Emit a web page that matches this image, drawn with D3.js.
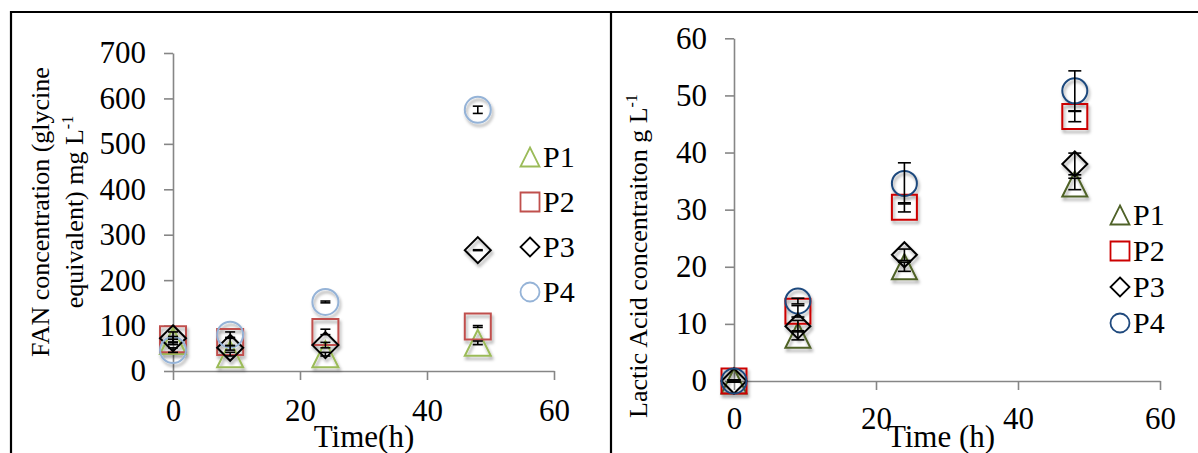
<!DOCTYPE html>
<html>
<head>
<meta charset="utf-8">
<script src="https://cdn.jsdelivr.net/npm/d3@7"></script>
<style>
  html, body { margin: 0; padding: 0; background: #fff; }
  svg { display: block; font-family: "Liberation Serif", "Times New Roman", serif; }
</style>
</head>
<body>
<svg id="chart" width="1198" height="453"></svg>
<script>
// time points (h)
const times = [0, 9, 24, 48];
const seriesNames = ['P1', 'P2', 'P3', 'P4'];
const xTicks = [0, 20, 40, 60];

// FAN concentration (mg/L)
const fanP1 = [66, 37, 37, 62];
const fanP2 = [70, 64, 86, 98];
const fanP3 = [72, 51, 57, 266];
const fanP4 = [46, 80, 152, 575];
const fanErr1 = [4, 4, 4, 4];
const fanErr2 = [6, 8, 6, 2];
const fanErr3 = [14, 5, 6, 1];
const fanErr4 = [5, 6, 2, 8];
const fanTicks = [0, 100, 200, 300, 400, 500, 600, 700];

// Lactic acid (g/L)
const laP1 = [0, 8.0, 20.0, 34.5];
const laP2 = [0, 12.2, 30.4, 46.3];
const laP3 = [0, 9.6, 22.1, 38.0];
const laP4 = [0, 14.0, 34.6, 50.8];
const laErr1 = [0.2, 0.8, 0.8, 1.0];
const laErr2 = [0.2, 1.0, 0.8, 0.9];
const laErr3 = [0.2, 1.0, 1.0, 1.9];
const laErr4 = [0.2, 0.5, 3.6, 3.5];
const laTicks = [0, 10, 20, 30, 40, 50, 60];

const shapes = ['triangle', 'square', 'diamond', 'circle'];

const svg = d3.select('#chart');

// drop shadow like the Excel markers
svg.append('defs').append('filter')
    .attr('id', 'shadow')
    .attr('x', '-50%').attr('y', '-50%').attr('width', '200%').attr('height', '200%')
  .append('feDropShadow')
    .attr('dx', 1.5).attr('dy', 3).attr('stdDeviation', 1.6)
    .attr('flood-color', '#000').attr('flood-opacity', 0.35);

// frame
svg.append('path')
    .attr('d', 'M11,453 V12 H1198 M611,12 V453')
    .attr('fill', 'none').attr('stroke', '#000').attr('stroke-width', 2.2);

function markerPath(shape, s) {
    const h = s / 2;
    if (shape === 'triangle') return `M0,${-h} L${h},${h} L${-h},${h} Z`;
    if (shape === 'square') return `M${-h},${-h} H${h} V${h} H${-h} Z`;
    return `M0,${-h} L${h},0 L0,${h} L${-h},0 Z`;
}

function drawMarker(g, shape, x, y, size, color, sw) {
    if (shape === 'circle') {
        g.append('circle').attr('cx', x).attr('cy', y).attr('r', size / 2)
            .attr('fill', 'none').attr('stroke', color).attr('stroke-width', sw);
    } else {
        g.append('path').attr('d', markerPath(shape, size))
            .attr('transform', `translate(${x},${y})`)
            .attr('fill', 'none').attr('stroke', color).attr('stroke-width', sw);
    }
}

function drawPanel(cfg) {
    const x = d3.scaleLinear().domain([0, 60]).range(cfg.xRange);
    const y = d3.scaleLinear().domain(cfg.yDomain).range(cfg.yRange);
    const g = svg.append('g');

    const yAxis = g.append('g')
        .attr('transform', `translate(${cfg.xRange[0]},0)`)
        .call(d3.axisLeft(y).tickValues(cfg.yTicks).tickSize(9).tickSizeOuter(0).tickPadding(18));
    const xAxis = g.append('g')
        .attr('transform', `translate(0,${cfg.yRange[0]})`)
        .call(d3.axisBottom(x).tickValues(xTicks).tickSize(9).tickSizeOuter(0).tickPadding(cfg.xPad));
    [yAxis, xAxis].forEach(a => {
        a.attr('font-family', null).attr('font-size', null);
        a.selectAll('path, line').attr('stroke', '#868686').attr('stroke-width', 1.6);
        a.selectAll('text').attr('fill', '#000').style('font-size', '31px');
    });

    // x title
    g.append('text')
        .attr('x', cfg.xTitlePos[0]).attr('y', cfg.xTitlePos[1])
        .attr('text-anchor', 'middle').style('font-size', '31px')
        .text(cfg.xTitle);

    // y title (rotated lines)
    cfg.yTitle.forEach((line, i) => {
        const t = g.append('text')
            .attr('transform', `translate(${cfg.yTitleX[i]},${cfg.yTitleY}) rotate(-90)`)
            .attr('text-anchor', 'middle').style('font-size', '26px');
        t.append('tspan').text(line.text);
        if (line.sup) {
            t.append('tspan').attr('dy', -10).style('font-size', '16px').text(line.sup);
        }
    });

    // markers
    const mg = g.append('g').attr('filter', 'url(#shadow)');
    cfg.values.forEach((vals, si) => {
        vals.forEach((v, i) => {
            drawMarker(mg, shapes[si], x(times[i]), y(v), cfg.markerSize, cfg.colors[si], 2);
        });
    });

    // error bars
    const eg = g.append('g').attr('stroke', '#000').attr('stroke-width', 1.6);
    cfg.values.forEach((vals, si) => {
        vals.forEach((v, i) => {
            const e = cfg.errors[si][i];
            const cx = x(times[i]);
            const y1 = y(v + e), y2 = y(v - e);
            eg.append('line').attr('x1', cx).attr('x2', cx).attr('y1', y1).attr('y2', y2);
            [y1, y2].forEach(yy => {
                eg.append('line').attr('x1', cx - cfg.cap).attr('x2', cx + cfg.cap)
                    .attr('y1', yy).attr('y2', yy);
            });
        });
    });

    // legend
    const lg = g.append('g');
    seriesNames.forEach((name, si) => {
        const ly = cfg.legend.y0 + si * cfg.legend.dy;
        drawMarker(lg, shapes[si], cfg.legend.x, ly, cfg.legend.size, cfg.colors[si], 1.8);
        lg.append('text')
            .attr('x', cfg.legend.x + 13).attr('y', ly + 10)
            .style('font-size', '30px').text(name);
    });
}

drawPanel({
    xRange: [173, 554],
    yDomain: [0, 700],
    yRange: [371, 53],
    yTicks: fanTicks,
    xPad: 19,
    xTitle: 'Time(h)',
    xTitlePos: [364, 447],
    yTitle: [{text: 'FAN concentration (glycine'}, {text: 'equivalent) mg L', sup: '-1'}],
    yTitleX: [49, 83],
    yTitleY: 212,
    values: [fanP1, fanP2, fanP3, fanP4],
    errors: [fanErr1, fanErr2, fanErr3, fanErr4],
    colors: ['#9bbb59', '#c0504d', '#000000', '#95b3d7'],
    markerSize: 26,
    cap: 5,
    legend: {x: 530, y0: 157, dy: 45, size: 19}
});

drawPanel({
    xRange: [734, 1160],
    yDomain: [0, 60],
    yRange: [381, 38.3],
    yTicks: laTicks,
    xPad: 17,
    xTitle: 'Time (h)',
    xTitlePos: [941, 447],
    yTitle: [{text: 'Lactic Acid concentraiton g L', sup: '-1'}],
    yTitleX: [647],
    yTitleY: 256,
    values: [laP1, laP2, laP3, laP4],
    errors: [laErr1, laErr2, laErr3, laErr4],
    colors: ['#4f6228', '#cc0000', '#000000', '#1f497d'],
    markerSize: 25,
    cap: 6.5,
    legend: {x: 1120, y0: 215, dy: 36, size: 19}
});
</script>
</body>
</html>
